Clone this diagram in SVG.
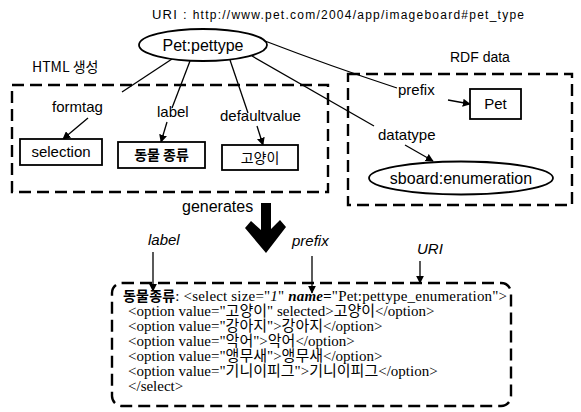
<svg xmlns="http://www.w3.org/2000/svg" width="581" height="412" viewBox="0 0 581 412">
<defs>
<marker id="ah" viewBox="0 0 10 10" refX="9" refY="5" markerWidth="8" markerHeight="8" markerUnits="userSpaceOnUse" orient="auto">
<path d="M0,0 L10,5 L0,10 Z" fill="#000"/>
</marker>
<style>
.t{font-family:"Liberation Sans","Noto Sans CJK KR",sans-serif;fill:#000}
.k{font-family:"Noto Sans CJK KR","Liberation Sans",sans-serif;fill:#000}
.c{font-family:"Liberation Serif","Noto Sans CJK KR",serif;font-size:15px;fill:#000}
.box{fill:#fff;stroke:#000;stroke-width:1.8}
.grp{fill:none;stroke:#000;stroke-width:2.4;stroke-dasharray:12 6}
.ln{fill:none;stroke:#000;stroke-width:1.3}
.ar{fill:none;stroke:#000;stroke-width:1.3;marker-end:url(#ah)}
</style>
</defs>
<rect width="581" height="412" fill="#fff"/>

<text class="t" x="152" y="19" font-size="13" textLength="372" lengthAdjust="spacing">URI : <tspan font-size="12">http://www.pet.com/2004/app/imageboard#pet_type</tspan></text>

<g id="html-group">
<rect class="grp" x="12" y="85" width="316" height="107"/>
<text class="k" x="32" y="72" font-size="14">HTML 생성</text>
</g>
<g id="rdf-group">
<rect class="grp" x="348" y="74" width="224" height="131"/>
<text class="t" x="450" y="62" font-size="14">RDF data</text>
</g>

<g id="connectors">
<path class="ln" d="M172,59 L122,92"/>
<path class="ln" d="M190,61 L172,108"/>
<path class="ln" d="M230,60 L248,113"/>
<path class="ln" d="M252,56 L374,126"/>
<path class="ln" d="M265,41 Q330,66 397,88"/>
<path class="ar" d="M88,118 L63,139"/>
<path class="ar" d="M167,122 L161,142"/>
<path class="ar" d="M257,126 L263,145"/>
<path class="ar" d="M448,100 L470,104"/>
<path class="ar" d="M405,145 L433,161"/>
<path class="ar" d="M153,252 L153,291"/>
<path class="ar" d="M312,256 L312,293"/>
<path class="ar" d="M420,261 L420,283"/>
<path d="M261,203 H271 V229 L280,220 L286,227 L266,253 L245,228 L251,221 L261,230 Z" fill="#000"/>
</g>

<g id="pettype">
<ellipse cx="203" cy="45" rx="64" ry="16" fill="#fff" stroke="#000" stroke-width="1.8"/>
<text class="t" x="203" y="51" font-size="16" text-anchor="middle">Pet:pettype</text>
</g>

<g id="formtag-label"><text class="t" x="52" y="112" font-size="15">formtag</text></g>
<g id="label-label"><text class="t" x="157" y="117" font-size="15">label</text></g>
<g id="defaultvalue-label"><text class="t" x="220" y="121" font-size="15">defaultvalue</text></g>
<g id="prefix-label"><text class="t" x="398" y="95" font-size="15">prefix</text></g>
<g id="datatype-label"><text class="t" x="378" y="140" font-size="15">datatype</text></g>

<g id="selection">
<rect class="box" x="20" y="139" width="82" height="26"/>
<text class="t" x="61" y="157" font-size="15" text-anchor="middle">selection</text>
</g>
<g id="dongmul">
<rect class="box" x="118" y="142" width="87" height="26"/>
<text class="k" x="161.5" y="160" font-size="14" font-weight="bold" text-anchor="middle">동물 종류</text>
</g>
<g id="goyangi">
<rect class="box" x="222" y="145" width="76" height="25"/>
<text class="k" x="260" y="163" font-size="14" text-anchor="middle">고양이</text>
</g>
<g id="pet">
<rect class="box" x="470" y="89" width="51" height="30"/>
<text class="t" x="495.5" y="109" font-size="15" text-anchor="middle">Pet</text>
</g>
<g id="sboard">
<ellipse cx="461" cy="178" rx="92" ry="16.5" fill="#fff" stroke="#000" stroke-width="1.8"/>
<text class="t" x="461" y="184" font-size="16" text-anchor="middle">sboard:enumeration</text>
</g>

<g id="generates-label"><text class="t" x="182" y="212" font-size="16">generates</text></g>
<g id="bottom-labels">
<text class="t" x="148" y="245" font-size="15" font-style="italic">label</text>
<text class="t" x="292" y="246" font-size="15" font-style="italic">prefix</text>
<text class="t" x="417" y="254" font-size="15" font-style="italic">URI</text>
</g>

<g id="html-code">
<rect x="112" y="283" width="399" height="123" rx="10" ry="10" class="grp"/>
<text class="c" x="123" y="301" textLength="384" lengthAdjust="spacing"><tspan font-family="Noto Sans CJK KR,sans-serif" font-weight="bold" font-size="14">동물종류</tspan>: &lt;select size="<tspan font-style="italic">1</tspan>" <tspan font-style="italic" font-weight="bold">name=</tspan>"Pet:pettype_enumeration"&gt;</text>
<text class="c" x="128" y="316">&lt;option value="고양이" selected&gt;고양이&lt;/option&gt;</text>
<text class="c" x="128" y="331">&lt;option value="강아지"&gt;강아지&lt;/option&gt;</text>
<text class="c" x="128" y="346">&lt;option value="악어"&gt;악어&lt;/option&gt;</text>
<text class="c" x="128" y="361">&lt;option value="앵무새"&gt;앵무새&lt;/option&gt;</text>
<text class="c" x="128" y="376">&lt;option value="기니이피그"&gt;기니이피그&lt;/option&gt;</text>
<text class="c" x="128" y="391">&lt;/select&gt;</text>
</g>
</svg>
